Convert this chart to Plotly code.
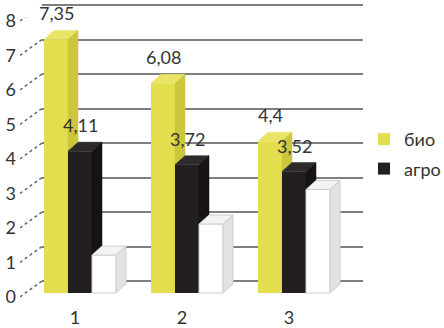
import plotly.graph_objects as go

# ---------------- data ----------------
categories = ["1", "2", "3"]
bio = [7.35, 6.08, 4.4]
agro = [4.11, 3.72, 3.52]
third = [1.1, 2.0, 3.0]
bio_labels = ["7,35", "6,08", "4,4"]
agro_labels = ["4,11", "3,72", "3,52"]
y_ticks = [0, 1, 2, 3, 4, 5, 6, 7, 8]
y_tick_labels = [str(v) for v in y_ticks]

# ---------------- geometry ----------------
W, H = 444, 328
def px(x): return x / W
def py(y): return 1 - y / H

UNIT = 34.5          # pixels per value unit
CAT = 107.0          # pixels per category
YLO, YHI = -0.1, 8.1
BAR_BASE, GRID_BASE, LABEL_BASE = 293, 281, 297
bw = 24 / CAT        # bar width in category units
DX = 10 / CAT        # depth offset (x)
DY = 9 / UNIT        # depth offset (y)

def ydom(base):
    return [py(base - YLO * UNIT), py(base - YHI * UNIT)]

xbar_dom = [px(80 - 0.5 * CAT), px(80 + 2.5 * CAT)]
xrng = [-0.5, 2.5]
FONT = "Lato"
TXT = "#333333"

fig = go.Figure()

# back wall gridlines subplot (x, y)
fig.add_trace(go.Scatter(x=[0], y=[None], xaxis="x", yaxis="y", showlegend=False,
                         hoverinfo="skip", mode="markers"))

series = [
    (bio, "био", "#E3DE4E", "#E8E466", "#CBC63C", "x2", "y2", True, None),
    (agro, "агро", "#231F20", "#2E2A2B", "#151314", "x3", "y3", True, None),
    (third, "", "#FFFFFF", "#F3F3F3", "#E2E2E2", "x4", "y4", False, "#CFCFCF"),
]
offsets = [-1.5 * bw, -0.5 * bw, 0.5 * bw]

for (vals, name, cf, ct, cs, xa, ya, leg, edge), off in zip(series, offsets):
    fig.add_trace(go.Bar(
        x=[0, 1, 2], y=vals, width=bw, offset=off, name=name, showlegend=leg,
        legendgroup=name or "w",
        marker=dict(color=cf, line=dict(color=edge if edge else cf, width=1 if edge else 0)),
        xaxis=xa, yaxis=ya, hoverinfo="skip"))
    for j, v in enumerate(vals):
        xl = j + off
        xr = xl + bw
        # top face
        fig.add_trace(go.Scatter(
            x=[xl, xl + DX, xr + DX, xr, xl], y=[v, v + DY, v + DY, v, v],
            fill="toself", fillcolor=ct, mode="lines",
            line=dict(color=edge if edge else ct, width=1 if edge else 0.5),
            xaxis=xa, yaxis=ya, showlegend=False, hoverinfo="skip"))
        # side face
        fig.add_trace(go.Scatter(
            x=[xr, xr + DX, xr + DX, xr, xr], y=[0, DY, v + DY, v, 0],
            fill="toself", fillcolor=cs, mode="lines",
            line=dict(color=edge if edge else cs, width=1 if edge else 0.5),
            xaxis=xa, yaxis=ya, showlegend=False, hoverinfo="skip"))

# dashed depth ticks on the left wall
dx_pts, dy_pts = [], []
for k in y_ticks:
    dx_pts += [0, 1, None]
    dy_pts += [k, k + (LABEL_BASE - GRID_BASE) / UNIT, None]
fig.add_trace(go.Scatter(x=dx_pts, y=dy_pts, mode="lines", xaxis="x5", yaxis="y5",
                         line=dict(color="#666666", width=1.5, dash="dot"),
                         showlegend=False, hoverinfo="skip"))

# data labels
ann = []
for j, (v, t) in enumerate(zip(bio, bio_labels)):
    ann.append(dict(x=j + offsets[0] + bw / 2, y=v, xref="x2", yref="y2", text=t,
                    showarrow=False, yshift=26, font=dict(family=FONT, size=18, color=TXT)))
for j, (v, t) in enumerate(zip(agro, agro_labels)):
    ann.append(dict(x=j + offsets[1] + bw / 2, y=v, xref="x3", yref="y3", text=t,
                    showarrow=False, yshift=26, font=dict(family=FONT, size=18, color=TXT)))

hidden = dict(showgrid=False, zeroline=False, showline=False, showticklabels=False,
              ticks="", automargin=False)

fig.update_layout(
    template="none",
    width=W, height=H, autosize=False,
    margin=dict(l=0, r=0, t=0, b=0, pad=0, autoexpand=False),
    paper_bgcolor="white", plot_bgcolor="rgba(0,0,0,0)",
    font=dict(family=FONT, size=18, color=TXT),
    annotations=ann,
    showlegend=True,
    legend=dict(x=px(364), y=py(121), xanchor="left", yanchor="top",
                bgcolor="rgba(0,0,0,0)", font=dict(family=FONT, size=18, color=TXT),
                traceorder="grouped", tracegroupgap=3),
    # back wall grid
    xaxis=dict(domain=[px(42), px(363)], range=[0, 1], anchor="y", **hidden),
    yaxis=dict(domain=ydom(GRID_BASE), range=[YLO, YHI], anchor="x",
               tickvals=y_ticks, showgrid=True, gridcolor="#7F7F7F", gridwidth=2,
               zeroline=False, showline=False, showticklabels=False, ticks="",
               automargin=False),
    # bars
    xaxis2=dict(domain=xbar_dom, range=xrng, anchor="y2", tickvals=[0, 1, 2],
                ticktext=categories, showgrid=False, zeroline=False, showline=False,
                ticks="", ticklabelshift=-5, ticklabelstandoff=9, automargin=False,
                tickfont=dict(family=FONT, size=18, color=TXT)),
    yaxis2=dict(domain=ydom(BAR_BASE), range=[YLO, YHI], anchor="x2", **hidden),
    xaxis3=dict(overlaying="x2", range=xrng, anchor="y3", **hidden),
    yaxis3=dict(overlaying="y2", range=[YLO, YHI], anchor="x3", **hidden),
    xaxis4=dict(overlaying="x2", range=xrng, anchor="y4", **hidden),
    yaxis4=dict(overlaying="y2", range=[YLO, YHI], anchor="x4", **hidden),
    # front tick labels + dashes
    xaxis5=dict(domain=[px(20), px(42)], range=[0, 1], anchor="y5", **hidden),
    yaxis5=dict(domain=ydom(LABEL_BASE), range=[YLO, YHI], anchor="x5",
                tickvals=y_ticks, ticktext=y_tick_labels, showgrid=False, zeroline=False,
                showline=False, ticks="", ticklabelstandoff=3, automargin=False,
                tickfont=dict(family=FONT, size=18, color=TXT)),
)

fig.write_html("out.html", config={"displayModeBar": False},
               post_script="document.body.style.margin='0';document.body.style.overflow='hidden';")
